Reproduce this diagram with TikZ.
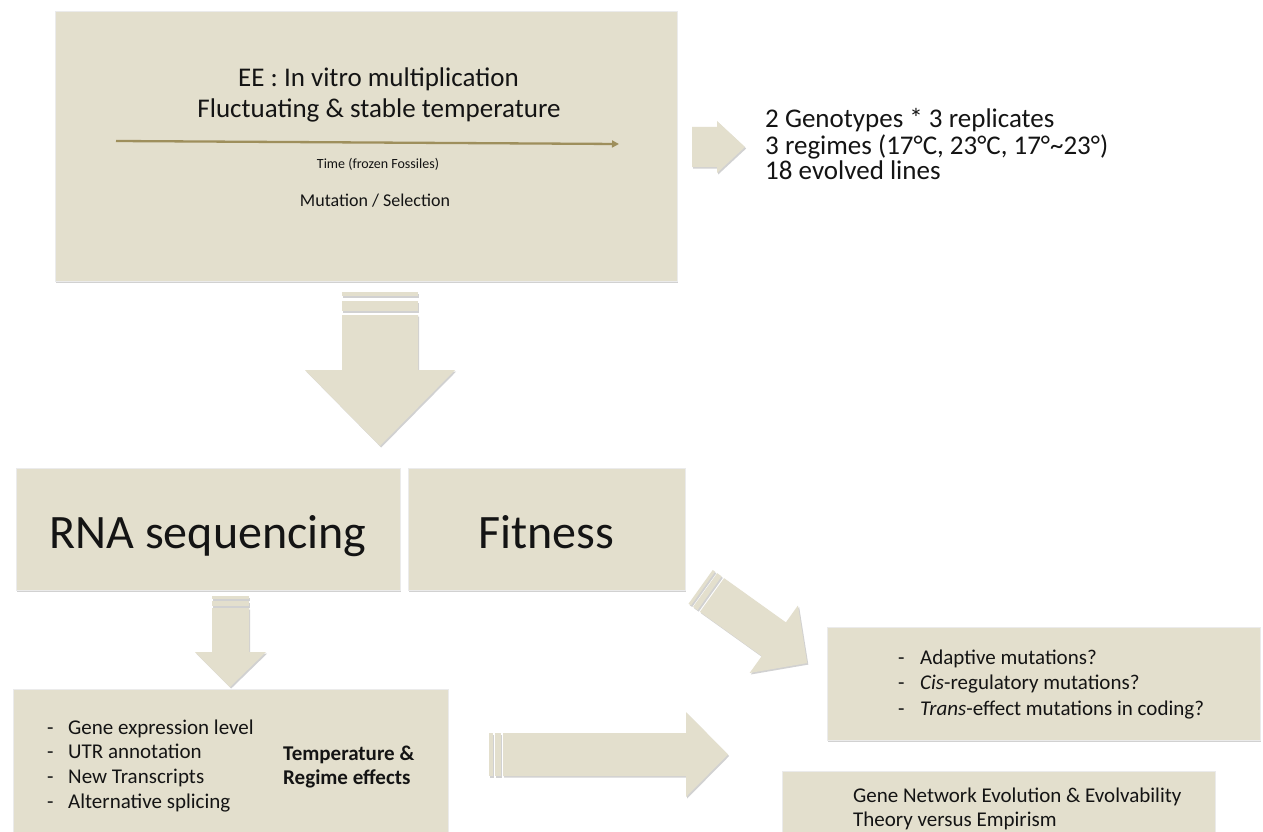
\documentclass[tikz,border=0pt]{standalone}
\usepackage{fontspec}
\setmainfont{Carlito}
\usetikzlibrary{arrows.meta,shadows}
\definecolor{beige}{RGB}{227,223,205}
\definecolor{olivearrow}{RGB}{158,143,92}
\newcommand{\myfs}[1]{\fontsize{#1}{#1}\selectfont}
\begin{document}
\begin{tikzpicture}[x=1pt,y=-1pt,
  shade1/.style={drop shadow={shadow xshift=1.2pt,shadow yshift=-1.5pt,fill=black!45,opacity=0.4}},
  box/.style={fill=beige,draw=black!8,line width=0.4pt,shade1,inner sep=0pt,anchor=north west},
  blk/.style={fill=beige,shade1},
  txt/.style={inner sep=0pt,anchor=base west,text=black!92},
  ctxt/.style={inner sep=0pt,anchor=base,text=black!92}]
\clip (0,0) rectangle (1263,832);
\fill[white] (0,0) rectangle (1263,832);

% boxes
\node[box,minimum width=622pt,minimum height=270pt] (top) at (55,11) {};
\node[box,minimum width=384pt,minimum height=122pt] (rna) at (16,468) {};
\node[box,minimum width=277pt,minimum height=122pt] (fit) at (408,468) {};
\node[box,minimum width=435pt,minimum height=160pt] (list) at (13,689) {};
\node[box,minimum width=433pt,minimum height=113pt] (q) at (827,627) {};
\node[box,minimum width=433pt,minimum height=80pt] (gne) at (782,771) {};

% top box content
\node[ctxt,font=\myfs{27}] (t1) at (378.5,87) {EE : In vitro multiplication};
\node[ctxt,font=\myfs{27}] (t2) at (379,118) {Fluctuating \& stable temperature};
\coordinate (tl0) at (116,141);
\coordinate (tl1) at (619,144);
\draw[olivearrow,line width=2.3pt,-{Triangle[length=7pt,width=7pt]}] (tl0) -- (tl1);
\node[ctxt,font=\myfs{14}] (time) at (378,168) {Time (frozen Fossiles)};
\node[ctxt,font=\myfs{18}] (mut) at (375,206) {Mutation / Selection};

% right small arrow
\fill[blk] (692,127) -- (717,127) -- (717,121) -- (745,147) -- (717,173) -- (717,167) -- (692,167) -- cycle;
\node[txt,font=\myfs{27}] (r1) at (765,128) {2 Genotypes * 3 replicates};
\node[txt,font=\myfs{27}] (r2) at (765,154) {3 regimes (17°C, 23°C, 17°\textasciitilde 23°)};
\node[txt,font=\myfs{27}] (r3) at (765,179) {18 evolved lines};

% main down arrow
\fill[blk] (342,292) rectangle (418,296);
\fill[blk] (342,301) rectangle (418,311);
\fill[blk] (342,315) -- (418,315) -- (418,370) -- (455,370) -- (380,446) -- (305,370) -- (342,370) -- cycle;

% RNA / Fitness text
\node[ctxt,font=\myfs{48}] (rnat) at (208,548) {RNA sequencing};
\node[ctxt,font=\myfs{48}] (fitt) at (546,548) {Fitness};

% small down arrow
\fill[blk] (212,596) rectangle (249,599);
\fill[blk] (212,601) rectangle (249,606);
\fill[blk] (212,608) -- (249,608) -- (249,652) -- (266,652) -- (230,687) -- (195,652) -- (212,652) -- cycle;

% list content
\foreach \i/\t in {0/Gene expression level,1/UTR annotation,2/New Transcripts,3/Alternative splicing}{
  \node[txt,font=\myfs{21}] (ld\i) at (47,734+24.7*\i) {-};
  \node[txt,font=\myfs{21}] (l\i) at (68,734+24.7*\i) {\t};
}
\node[txt,font=\myfs{21}\bfseries] (b1) at (283,760) {Temperature \&};
\node[txt,font=\myfs{21}\bfseries] (b2) at (283,784) {Regime effects};

% diagonal arrow
\begin{scope}[shift={(712,595)},rotate=-35.6]
  \fill[blk] (-14,-20.75) rectangle (-11,20.75);
  \fill[blk] (-8.5,-20.75) rectangle (-3,20.75);
  \fill[blk] (0,-20.75) -- (76,-20.75) -- (76,-41.5) -- (117,0) -- (76,41.5) -- (76,20.75) -- (0,20.75) -- cycle;
\end{scope}

% bottom arrow
\fill[blk] (489,733) rectangle (493,776);
\fill[blk] (495,733) rectangle (501,776);
\fill[blk] (503,733) -- (686,733) -- (686,712) -- (728,754.5) -- (686,797) -- (686,776) -- (503,776) -- cycle;

% question box
\foreach \i in {0,1,2}{\node[txt,font=\myfs{21}] (qd\i) at (898,664+25.5*\i) {-};}
\node[txt,font=\myfs{21}] (q0) at (920,664) {Adaptive mutations?};
\node[txt,font=\myfs{21}] (q1) at (920,689.5) {\textit{Cis}-regulatory mutations?};
\node[txt,font=\myfs{21}] (q2) at (920,715) {\textit{Trans}-effect mutations in coding?};

% gene network box
\node[txt,font=\myfs{21}] (g1) at (853,802) {Gene Network Evolution \& Evolvability};
\node[txt,font=\myfs{21}] (g2) at (853,826) {Theory versus Empirism};
\end{tikzpicture}
\end{document}
